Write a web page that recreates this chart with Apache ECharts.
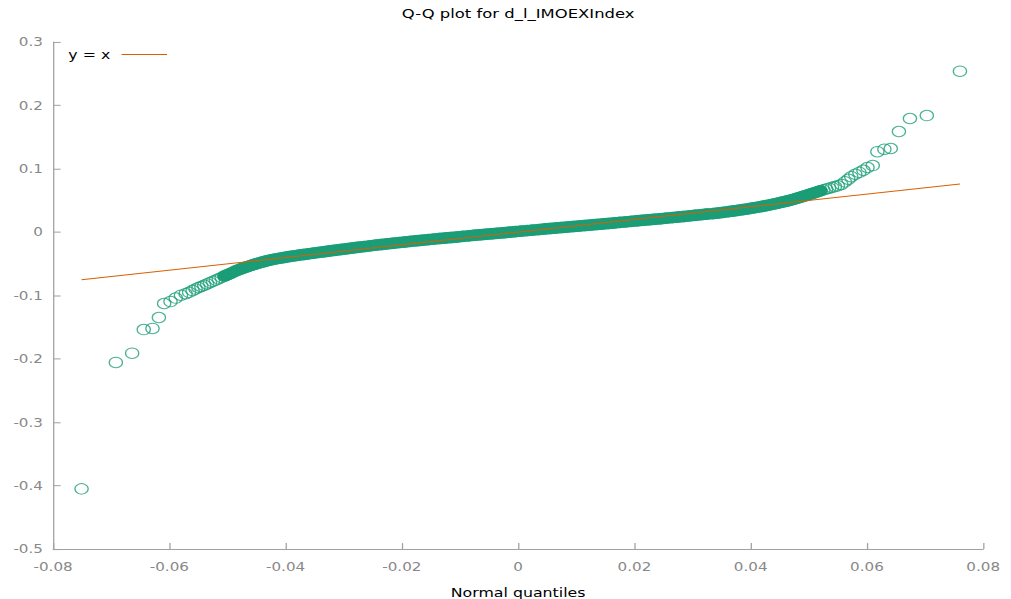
<!DOCTYPE html>
<html>
<head>
<meta charset="utf-8">
<title>Q-Q plot for d_l_IMOEXIndex</title>
<script src="https://cdn.jsdelivr.net/npm/echarts@6/dist/echarts.min.js"></script>
<style>
  html, body { margin: 0; padding: 0; background: #fff; overflow: hidden; }
  /* the chart is laid out on an 800x600 canvas and widened to fill the window */
  #chart { width: 800px; height: 600px; transform-origin: 0 0; transform: scale(1.26375, 0.99833); }
</style>
</head>
<body>
<div id="chart"></div>
<script>
// Normal quantiles (x) and sorted sample quantiles of d_l_IMOEXIndex (y)
const qx = [
  -0.0751, -0.0692, -0.0664, -0.0644, -0.0629, -0.0618, -0.0609, -0.0598, -0.0589, -0.0580,
  -0.0572, -0.0566, -0.0560, -0.0555, -0.0550, -0.0545, -0.0540, -0.0535, -0.0530, -0.0525,
  -0.0520, -0.0515, -0.0510, -0.0505, -0.0500, -0.0495, -0.0490, -0.0485, -0.0480, -0.0475,
  -0.0470, -0.0465, -0.0460, -0.0455, -0.0450, -0.0444, -0.0438, -0.0432, -0.0426, -0.0420,
  -0.0413, -0.0406, -0.0399, -0.0392, -0.0385, -0.0377, -0.0369, -0.0361, -0.0352, -0.0343,
  -0.0334, -0.0325, -0.0315, -0.0305, -0.0295, -0.0285, -0.0275, -0.0265, -0.0255, -0.0245,
  -0.0235, -0.0225, -0.0215, -0.0205, -0.0195, -0.0185, -0.0175, -0.0165, -0.0155, -0.0145,
  -0.0135, -0.0125, -0.0115, -0.0105, -0.0095, -0.0085, -0.0075, -0.0065, -0.0055, -0.0045,
  -0.0035, -0.0025, -0.0015, -0.0005, 0.0005, 0.0015, 0.0025, 0.0035, 0.0045, 0.0055,
  0.0065, 0.0075, 0.0085, 0.0095, 0.0105, 0.0115, 0.0125, 0.0135, 0.0145, 0.0155,
  0.0165, 0.0175, 0.0185, 0.0195, 0.0205, 0.0215, 0.0225, 0.0235, 0.0245, 0.0255,
  0.0265, 0.0275, 0.0285, 0.0295, 0.0305, 0.0315, 0.0325, 0.0335, 0.0344, 0.0353,
  0.0362, 0.0370, 0.0378, 0.0386, 0.0393, 0.0400, 0.0407, 0.0414, 0.0420, 0.0426,
  0.0432, 0.0438, 0.0444, 0.0450, 0.0455, 0.0460, 0.0465, 0.0470, 0.0475, 0.0480,
  0.0485, 0.0490, 0.0495, 0.0500, 0.0505, 0.0510, 0.0515, 0.0520, 0.0525, 0.0530,
  0.0535, 0.0540, 0.0545, 0.0550, 0.0556, 0.0562, 0.0568, 0.0573, 0.0580, 0.0587,
  0.0594, 0.0601, 0.0610, 0.0618, 0.0630, 0.0641, 0.0655, 0.0674, 0.0703, 0.0760
];
const qy = [
  -0.4050, -0.2056, -0.1910, -0.1537, -0.1520, -0.1347, -0.1126, -0.1095, -0.1040, -0.0995,
  -0.0972, -0.0950, -0.0922, -0.0898, -0.0876, -0.0857, -0.0838, -0.0818, -0.0797, -0.0777,
  -0.0757, -0.0736, -0.0714, -0.0693, -0.0672, -0.0652, -0.0631, -0.0611, -0.0592, -0.0574,
  -0.0558, -0.0542, -0.0527, -0.0512, -0.0498, -0.0482, -0.0467, -0.0453, -0.0440, -0.0428,
  -0.0416, -0.0405, -0.0394, -0.0384, -0.0374, -0.0363, -0.0353, -0.0343, -0.0332, -0.0321,
  -0.0310, -0.0298, -0.0286, -0.0274, -0.0262, -0.0251, -0.0239, -0.0228, -0.0217, -0.0206,
  -0.0195, -0.0185, -0.0175, -0.0165, -0.0156, -0.0146, -0.0137, -0.0128, -0.0119, -0.0110,
  -0.0101, -0.0093, -0.0084, -0.0076, -0.0067, -0.0059, -0.0050, -0.0042, -0.0034, -0.0025,
  -0.0017, -0.0009, -0.0001, 0.0007, 0.0015, 0.0023, 0.0031, 0.0040, 0.0048, 0.0056,
  0.0064, 0.0072, 0.0080, 0.0088, 0.0096, 0.0104, 0.0113, 0.0121, 0.0129, 0.0137,
  0.0145, 0.0153, 0.0161, 0.0170, 0.0178, 0.0186, 0.0194, 0.0203, 0.0211, 0.0220,
  0.0229, 0.0238, 0.0247, 0.0256, 0.0265, 0.0275, 0.0285, 0.0292, 0.0302, 0.0312,
  0.0323, 0.0333, 0.0343, 0.0354, 0.0364, 0.0374, 0.0385, 0.0396, 0.0406, 0.0417,
  0.0428, 0.0440, 0.0452, 0.0465, 0.0475, 0.0485, 0.0496, 0.0508, 0.0521, 0.0535,
  0.0549, 0.0563, 0.0577, 0.0592, 0.0607, 0.0622, 0.0637, 0.0652, 0.0666, 0.0680,
  0.0693, 0.0706, 0.0718, 0.0731, 0.0752, 0.0792, 0.0834, 0.0874, 0.0913, 0.0942,
  0.0976, 0.1019, 0.1050, 0.1268, 0.1308, 0.1319, 0.1587, 0.1792, 0.1839, 0.2538
];

// Axis ranges and tick steps
const xRange = [-0.08, 0.08], xStep = 0.02;
const yRange = [-0.5, 0.3], yStep = 0.1;

const titleText = 'Q-Q plot for d_l_IMOEXIndex';
const xName = 'Normal quantiles';
const refName = 'y = x';

const GREEN = '#1b9e77';
const ORANGE = '#d95f02';
const FONT = 'DejaVu Sans';

const points = qx.map((x, i) => [x, qy[i]]);
// where the markers pile up into a solid ribbon
const ribbon = points.filter(p => p[0] >= -0.0505 && p[0] <= 0.052);
const refLine = [[qx[0], qx[0]], [qx[qx.length - 1], qx[qx.length - 1]]];

const fmt = v => String(Math.round(v * 100) / 100);

const axisCommon = {
  axisLine: { show: true, onZero: false, lineStyle: { color: '#a0a0a0', width: 1 } },
  axisTick: { show: true, inside: true, length: 6, lineStyle: { color: '#a0a0a0', width: 1 } },
  splitLine: { show: false },
  axisLabel: { color: '#888', fontSize: 12, fontFamily: FONT, formatter: fmt }
};

const chart = echarts.init(document.getElementById('chart'), null, { renderer: 'svg' });
chart.setOption({
  animation: false,
  backgroundColor: '#fff',
  title: {
    text: titleText,
    left: 410, top: 7, padding: 0, textAlign: 'center',
    textStyle: { fontFamily: FONT, fontSize: 13, fontWeight: 'normal', color: '#000' }
  },
  legend: {
    data: [refName],
    left: 54, top: 48, padding: 0,
    align: 'right',
    icon: 'rect',
    itemWidth: 36, itemHeight: 1,
    textStyle: { fontFamily: FONT, fontSize: 12.5, color: '#000', padding: [0, 4, 0, 0] },
    selectedMode: false
  },
  grid: { left: 42, right: 22, top: 42, bottom: 50, containLabel: false, outerBoundsMode: 'none' },
  xAxis: Object.assign({}, axisCommon, {
    type: 'value', min: xRange[0], max: xRange[1], interval: xStep,
    name: xName, nameLocation: 'middle', nameGap: 37,
    nameTextStyle: { fontFamily: FONT, fontSize: 12.5, color: '#000' },
    axisLabel: Object.assign({}, axisCommon.axisLabel, { margin: 12 })
  }),
  yAxis: Object.assign({}, axisCommon, {
    type: 'value', min: yRange[0], max: yRange[1], interval: yStep,
    axisLabel: Object.assign({}, axisCommon.axisLabel, { margin: 8 })
  }),
  series: [
    {
      type: 'line', data: ribbon, symbol: 'none', silent: true, z: 1,
      itemStyle: { color: GREEN },
      lineStyle: { color: GREEN, width: 11.5, cap: 'round', join: 'round' }
    },
    {
      type: 'scatter', data: points, symbol: 'circle', symbolSize: 10.5, silent: true, z: 2,
      itemStyle: { color: 'transparent', borderColor: GREEN, borderWidth: 1 }
    },
    {
      type: 'line', name: refName, data: refLine, symbol: 'none', silent: true, z: 3,
      itemStyle: { color: ORANGE },
      lineStyle: { color: ORANGE, width: 1 }
    }
  ]
});
</script>
</body>
</html>
